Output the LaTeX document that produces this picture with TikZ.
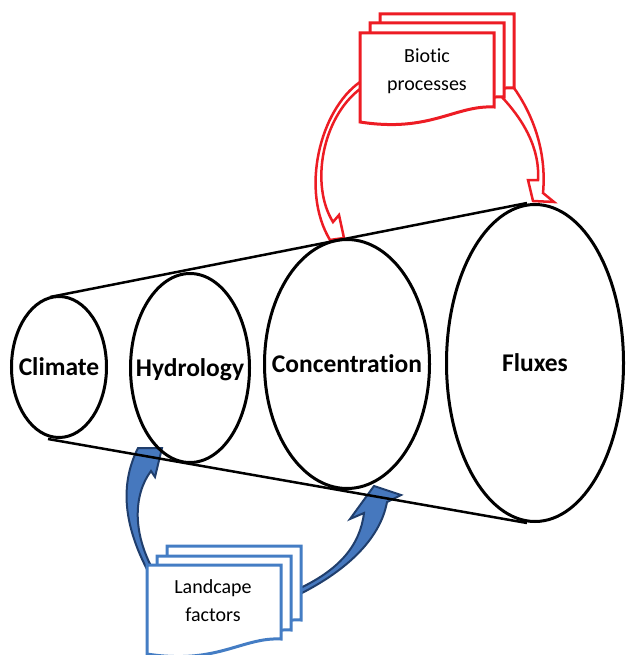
\documentclass[tikz,border=0pt]{standalone}
\usepackage{fontspec}
\setmainfont[RawFeature={-liga}]{Carlito}
\usetikzlibrary{shapes.geometric}
\definecolor{bred}{RGB}{237,28,36}
\definecolor{lblue}{RGB}{68,125,196}
\definecolor{dblue}{RGB}{32,62,108}
\definecolor{ablue}{RGB}{70,120,190}
\begin{document}
\begin{tikzpicture}[x=1pt,y=-1pt,
 ring/.style={ellipse, draw, line width=3pt, inner sep=0pt},
 lbl/.style={font=\fontsize{25.5}{28}\selectfont\bfseries, text height=17pt, text depth=0pt, inner sep=0pt},
 doctext/.style={font=\fontsize{20}{28}\selectfont, align=center, inner sep=0pt},
 reddoc/.style={draw=bred, fill=white, line width=3pt},
 bluedoc/.style={draw=lblue, fill=white, line width=3pt},
 redarrow/.style={draw=bred, fill=white, line width=2.5pt, line join=miter},
 bluearrow/.style={draw=dblue, fill=ablue, line width=2pt, line join=miter},
 tangent/.style={line width=2.5pt},
 docshape/.pic={\path[pic actions] (0,0) -- (134,0) -- (134,74) .. controls (95,72) and (70,100) .. (0,89) -- cycle;}
]
\useasboundingbox (0,0) rectangle (627,655);

% arrows (drawn first, covered by documents)
\draw[redarrow] (366,82) -- (360,82) .. controls (320,110) and (300,190) .. (330,240) -- (344,238) -- (339,215) -- (333,222) .. controls (310,185) and (322,118) .. (360,89) -- (366,89) -- cycle;
\draw[redarrow] (508,80) .. controls (532,110) and (547,150) .. (543,193) -- (554,202) -- (533,201) -- (528,180) -- (538,180) .. controls (540,150) and (525,120) .. (497,92) -- cycle;
\draw[bluearrow] (150,575) .. controls (120,520) and (122,480) .. (138,448) -- (162,448) -- (155,477) -- (151,471) .. controls (133,495) and (132,535) .. (156,575) -- cycle;
\draw[bluearrow] (296,596) .. controls (345,572) and (380,540) .. (387,502) -- (401,495) -- (374,486) -- (350,519) -- (364,513) .. controls (360,545) and (340,570) .. (296,590) -- cycle;

% documents
\pic[reddoc] at (380,14) {docshape};
\pic[reddoc] at (370,23) {docshape};
\pic[reddoc] at (360,33) {docshape};
\node[doctext] (bio) at (427,71) {Biotic\\processes};

\pic[bluedoc] at (167,546) {docshape};
\pic[bluedoc] at (157,556) {docshape};
\pic[bluedoc] at (147,565) {docshape};
\node[doctext] (land) at (213,601) {Landcape\\factors};

% cone lines
\coordinate (tA) at (50,297);
\coordinate (tB) at (527,203);
\coordinate (bA) at (48,439);
\coordinate (bB) at (527,523);
\draw[tangent] (tA) -- (tB);
\draw[tangent] (bA) -- (bB);

% ellipses
\node[ring, minimum width=95pt, minimum height=141pt, label={[lbl]center:Climate}] (cli) at (59,367) {};
\node[ring, minimum width=119pt, minimum height=189pt, label={[lbl]center:Hydrology}] (hyd) at (190,368) {};
\node[ring, minimum width=165pt, minimum height=249pt, label={[lbl]center:Concentration}] (con) at (347,364) {};
\node[ring, minimum width=177pt, minimum height=317pt, label={[lbl]center:Fluxes}] (flu) at (535,363) {};
\end{tikzpicture}
\end{document}
